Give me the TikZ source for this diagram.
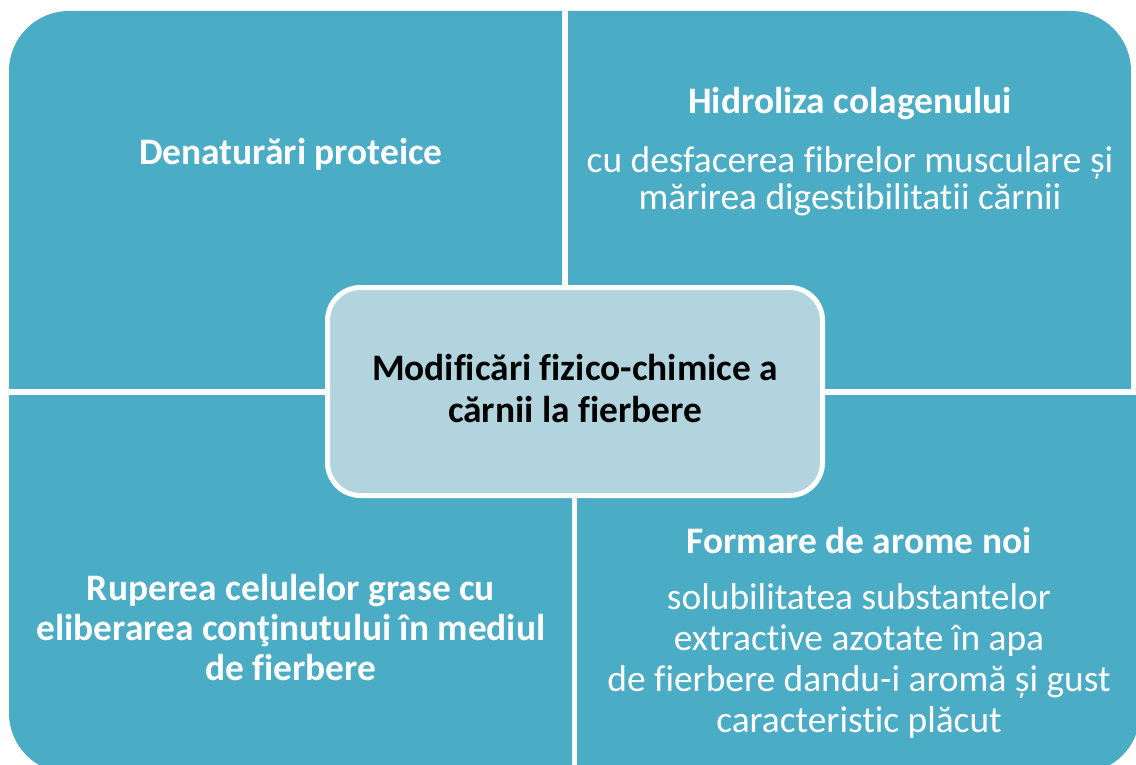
\documentclass[tikz,border=0pt]{standalone}
\usepackage{fontspec}
\setmainfont{Carlito}[RawFeature={-liga;-clig;-dlig}]
\definecolor{quad}{RGB}{75,172,198}
\definecolor{hub}{RGB}{177,212,223}
\begin{document}
\begin{tikzpicture}[x=1pt,y=-1pt,
  quadshape/.style={fill=quad,rounded corners=60pt},
  txt/.style={text=white,align=center,inner sep=0pt,anchor=base},
  hd/.style={txt,font=\bfseries\fontsize{37.4}{40}\selectfont},
  bd/.style={txt,font=\fontsize{37.4}{41}\selectfont},
  hubbox/.style={draw=white,line width=5pt,fill=hub,rounded corners=33pt,minimum width=495pt,minimum height=208pt,inner sep=0pt},
  hubtxt/.style={txt,text=black,font=\bfseries\fontsize{37.4}{42}\selectfont}
]
\useasboundingbox (0,0) rectangle (1136,765);
\fill[white] (0,0) rectangle (1136,765);
% quadrants
\begin{scope}
  \clip (9,11) rectangle (562,388);
  \fill[quadshape] (9,11) rectangle (800,700);
\end{scope}
\begin{scope}
  \clip (568,11) rectangle (1131,388);
  \fill[quadshape] (300,11) rectangle (1131,700);
\end{scope}
\begin{scope}
  \clip (9,395) rectangle (572,773);
  \fill[quadshape] (9,100) rectangle (800,773);
\end{scope}
\begin{scope}
  \clip (577,395) rectangle (1140,773);
  \fill[quadshape] (300,100) rectangle (1140,773);
\end{scope}
% texts (anchor base = baseline of the last line)
\node[hd] (tl) at (291,165) {Denaturări proteice};
\node[hd] (trh) at (850,114) {Hidroliza colagenului};
\node[bd,font=\fontsize{37.4}{37}\selectfont] (trb) at (850,210) {cu desfacerea fibrelor musculare și\\mărirea digestibilitatii cărnii};
\node[hd] (bl) at (291,680) {Ruperea celulelor grase cu\\eliberarea conţinutului în mediul\\de fierbere};
\node[hd] (brh) at (859,553) {Formare de arome noi};
\node[bd] (brb) at (859,732) {solubilitatea substantelor\\extractive azotate în apa\\de fierbere dandu-i aromă și gust\\caracteristic plăcut};
% hub
\node[hubbox] (hub) at (575,391.5) {};
\node[hubtxt] (hubt) at (575,422) {Modificări fizico-chimice a\\cărnii la fierbere};
\end{tikzpicture}
\end{document}
